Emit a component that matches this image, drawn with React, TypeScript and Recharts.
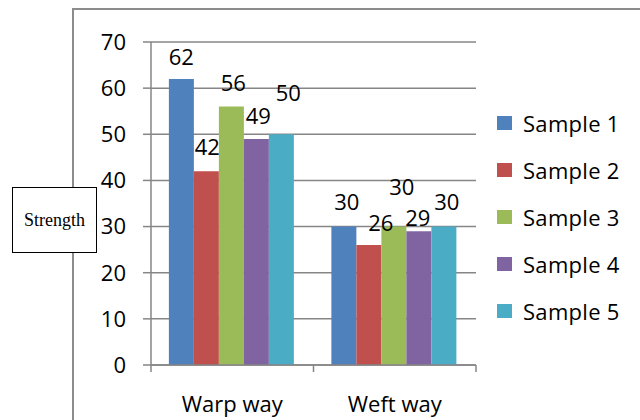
import React from 'react';
import { BarChart, Bar, XAxis, YAxis, CartesianGrid, LabelList } from 'recharts';

const categories = ['Warp way', 'Weft way'];
const seriesNames = ['Sample 1', 'Sample 2', 'Sample 3', 'Sample 4', 'Sample 5'];
const sample1 = [62, 30];
const sample2 = [42, 26];
const sample3 = [56, 30];
const sample4 = [49, 29];
const sample5 = [50, 30];
const yTicks = [0, 10, 20, 30, 40, 50, 60, 70];
const axisTitle = 'Strength';

const seriesValues = [sample1, sample2, sample3, sample4, sample5];
const colors = ['#4F81BD', '#C0504D', '#9BBB59', '#8064A2', '#4BACC6'];
// label nudges (px, relative to each bar top) mimicking the original's collision-avoided labels
const labelLift = [[23, 26], [25, 23], [25, 41], [24, 14], [42, 26]];
const labelShift = [[0, 3], [1, 12], [2, 8], [2, -1], [7, 3]];

const FONT = '"Open Sans", "Noto Sans", sans-serif';
const GRID = '#868686';

const data = categories.map((c, i) => {
  const row: Record<string, any> = { category: c };
  seriesValues.forEach((vals, s) => {
    row['s' + s] = vals[i];
  });
  return row;
});

const makeLabel = (si: number) => (props: any) => {
  const { x, y, width, value } = props;
  let index = props.index;
  if (index == null) index = 0;
  const cx = Number(x) + Number(width) / 2 + (labelShift[si][index] || 0);
  const cy = Number(y) - (labelLift[si][index] || 0);
  return (
    <text
      x={cx}
      y={cy}
      textAnchor="middle"
      dominantBaseline="central"
      fontSize={22}
      fontFamily={FONT}
      fill="#000"
    >
      {value}
    </text>
  );
};

const CategoryTick = (props: any) => {
  const { x, y, payload } = props;
  const half = payload && payload.offset ? payload.offset : 81.25;
  const isLast = payload && payload.index === categories.length - 1;
  return (
    <g>
      <line x1={x - half} x2={x - half} y1={y} y2={y + 7} stroke={GRID} strokeWidth={1.5} />
      {isLast && <line x1={x + half} x2={x + half} y1={y} y2={y + 7} stroke={GRID} strokeWidth={1.5} />}
      <text x={x} y={y + 47} textAnchor="middle" fontSize={22} fontFamily={FONT} fill="#000">
        {payload ? payload.value : ''}
      </text>
    </g>
  );
};

export default function App() {
  return (
    <div style={{ position: 'absolute', left: 0, top: 0, width: 640, height: 420, background: '#fff', overflow: 'hidden' }}>
      <div
        style={{
          position: 'absolute',
          left: 72,
          top: 8,
          width: 580,
          height: 430,
          borderLeft: '2px solid #8c8c8c',
          borderTop: '2px solid #8c8c8c',
          boxSizing: 'border-box',
        }}
      />
      <div style={{ position: 'absolute', left: 0, top: 0 }}>
        <BarChart
          width={640}
          height={420}
          data={data}
          margin={{ top: 42, right: 164, left: 91, bottom: 0 }}
          barCategoryGap="11%"
          barGap={0}
        >
          <CartesianGrid vertical={false} stroke={GRID} strokeWidth={1.5} />
          <XAxis
            dataKey="category"
            height={55}
            tickLine={false}
            axisLine={{ stroke: GRID, strokeWidth: 1.5 }}
            tickSize={0}
            tickMargin={0}
            tick={<CategoryTick />}
            interval={0}
          />
          <YAxis
            width={60}
            domain={[0, 70]}
            ticks={yTicks}
            interval={0}
            tickSize={8}
            tickMargin={17}
            axisLine={{ stroke: GRID, strokeWidth: 1.5 }}
            tickLine={{ stroke: GRID, strokeWidth: 1.5 }}
            tick={{ fontSize: 22, fontFamily: FONT, fill: '#000' }}
          />
          {seriesNames.map((name, s) => (
            <Bar key={name} dataKey={'s' + s} name={name} fill={colors[s]} isAnimationActive={false}>
              <LabelList dataKey={'s' + s} content={makeLabel(s)} />
            </Bar>
          ))}
        </BarChart>
      </div>
      <div style={{ position: 'absolute', left: 497, top: 99, fontFamily: FONT }}>
        {seriesNames.map((n, i) => (
          <div key={n} style={{ display: 'flex', alignItems: 'center', height: 47 }}>
            <span style={{ display: 'inline-block', width: 15, height: 14, background: colors[i], marginRight: 11 }} />
            <span style={{ fontSize: 22, color: '#000', letterSpacing: 0.3 }}>{n}</span>
          </div>
        ))}
      </div>
      <div
        style={{
          position: 'absolute',
          left: 12,
          top: 187,
          width: 85,
          height: 66,
          boxSizing: 'border-box',
          border: '1.5px solid #000',
          background: '#fff',
          display: 'flex',
          alignItems: 'center',
          justifyContent: 'center',
          fontFamily: '"Liberation Serif", "Times New Roman", serif',
          fontSize: 18,
          color: '#000',
        }}
      >
        {axisTitle}
      </div>
    </div>
  );
}
